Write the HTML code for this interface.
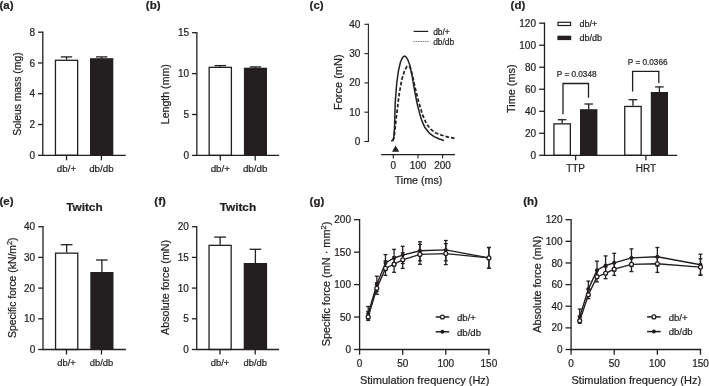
<!DOCTYPE html>
<html><head><meta charset="utf-8"><title>Figure</title>
<style>
html,body{margin:0;padding:0;background:#fff;}
svg{display:block;filter:blur(0.35px);}
text{font-family:'Liberation Sans', Arial, Helvetica, sans-serif;fill:#231f20;stroke:#231f20;stroke-width:0.22px;}
</style></head><body>
<svg width="709" height="386" viewBox="0 0 709 386">
<rect width="709" height="386" fill="#fff"/>
<text x="-0.60" y="9.30" font-size="11.5" text-anchor="start" font-weight="bold" >(a)</text>
<text x="145.80" y="9.30" font-size="11.5" text-anchor="start" font-weight="bold" >(b)</text>
<text x="309.60" y="9.30" font-size="11.5" text-anchor="start" font-weight="bold" >(c)</text>
<text x="510.60" y="9.30" font-size="11.5" text-anchor="start" font-weight="bold" >(d)</text>
<text x="-0.60" y="204.60" font-size="11.5" text-anchor="start" font-weight="bold" >(e)</text>
<text x="154.30" y="204.60" font-size="11.5" text-anchor="start" font-weight="bold" >(f)</text>
<text x="309.60" y="204.60" font-size="11.5" text-anchor="start" font-weight="bold" >(g)</text>
<text x="523.20" y="204.60" font-size="11.5" text-anchor="start" font-weight="bold" >(h)</text>
<line x1="66.55" y1="59.65" x2="66.55" y2="56.90" stroke="#231f20" stroke-width="1.3" />
<line x1="60.90" y1="56.90" x2="72.20" y2="56.90" stroke="#231f20" stroke-width="1.3" />
<rect x="55.45" y="60.30" width="22.20" height="95.00" fill="#fff" stroke="#231f20" stroke-width="1.3"/>
<line x1="101.65" y1="58.20" x2="101.65" y2="56.90" stroke="#231f20" stroke-width="1.3" />
<line x1="95.95" y1="56.90" x2="107.35" y2="56.90" stroke="#231f20" stroke-width="1.3" />
<rect x="90.00" y="58.20" width="23.30" height="97.10" fill="#231f20"/>
<line x1="42.80" y1="31.55" x2="42.80" y2="155.95" stroke="#231f20" stroke-width="1.3" />
<line x1="38.00" y1="155.30" x2="42.80" y2="155.30" stroke="#231f20" stroke-width="1.3" />
<text x="35.00" y="158.88" font-size="10" text-anchor="end" font-weight="normal" >0</text>
<line x1="38.00" y1="124.53" x2="42.80" y2="124.53" stroke="#231f20" stroke-width="1.3" />
<text x="35.00" y="128.11" font-size="10" text-anchor="end" font-weight="normal" >2</text>
<line x1="38.00" y1="93.75" x2="42.80" y2="93.75" stroke="#231f20" stroke-width="1.3" />
<text x="35.00" y="97.33" font-size="10" text-anchor="end" font-weight="normal" >4</text>
<line x1="38.00" y1="62.98" x2="42.80" y2="62.98" stroke="#231f20" stroke-width="1.3" />
<text x="35.00" y="66.56" font-size="10" text-anchor="end" font-weight="normal" >6</text>
<line x1="38.00" y1="32.20" x2="42.80" y2="32.20" stroke="#231f20" stroke-width="1.3" />
<text x="35.00" y="35.78" font-size="10" text-anchor="end" font-weight="normal" >8</text>
<line x1="42.80" y1="155.30" x2="125.70" y2="155.30" stroke="#231f20" stroke-width="1.3" />
<line x1="66.50" y1="155.30" x2="66.50" y2="160.30" stroke="#231f20" stroke-width="1.3" />
<text x="66.50" y="172.00" font-size="9.8" text-anchor="middle" font-weight="normal" >db/+</text>
<line x1="101.40" y1="155.30" x2="101.40" y2="160.30" stroke="#231f20" stroke-width="1.3" />
<text x="101.40" y="172.00" font-size="9.8" text-anchor="middle" font-weight="normal" >db/db</text>
<text x="21.50" y="94.10" font-size="10.35" text-anchor="middle" font-weight="normal" transform="rotate(-90 21.50 94.10)" >Soleus mass (mg)</text>
<line x1="220.28" y1="66.70" x2="220.28" y2="65.60" stroke="#231f20" stroke-width="1.3" />
<line x1="214.47" y1="65.60" x2="226.08" y2="65.60" stroke="#231f20" stroke-width="1.3" />
<rect x="209.15" y="67.35" width="22.25" height="88.05" fill="#fff" stroke="#231f20" stroke-width="1.3"/>
<line x1="255.45" y1="67.70" x2="255.45" y2="66.90" stroke="#231f20" stroke-width="1.3" />
<line x1="249.75" y1="66.90" x2="261.15" y2="66.90" stroke="#231f20" stroke-width="1.3" />
<rect x="243.90" y="67.70" width="23.10" height="87.70" fill="#231f20"/>
<line x1="196.85" y1="32.05" x2="196.85" y2="156.05" stroke="#231f20" stroke-width="1.3" />
<line x1="192.05" y1="155.40" x2="196.85" y2="155.40" stroke="#231f20" stroke-width="1.3" />
<text x="189.05" y="158.98" font-size="10" text-anchor="end" font-weight="normal" >0</text>
<line x1="192.05" y1="114.50" x2="196.85" y2="114.50" stroke="#231f20" stroke-width="1.3" />
<text x="189.05" y="118.08" font-size="10" text-anchor="end" font-weight="normal" >5</text>
<line x1="192.05" y1="73.60" x2="196.85" y2="73.60" stroke="#231f20" stroke-width="1.3" />
<text x="189.05" y="77.18" font-size="10" text-anchor="end" font-weight="normal" >10</text>
<line x1="192.05" y1="32.70" x2="196.85" y2="32.70" stroke="#231f20" stroke-width="1.3" />
<text x="189.05" y="36.28" font-size="10" text-anchor="end" font-weight="normal" >15</text>
<line x1="196.85" y1="155.40" x2="279.20" y2="155.40" stroke="#231f20" stroke-width="1.3" />
<line x1="220.30" y1="155.40" x2="220.30" y2="160.40" stroke="#231f20" stroke-width="1.3" />
<text x="220.30" y="172.20" font-size="9.8" text-anchor="middle" font-weight="normal" >db/+</text>
<line x1="255.20" y1="155.40" x2="255.20" y2="160.40" stroke="#231f20" stroke-width="1.3" />
<text x="255.20" y="172.20" font-size="9.8" text-anchor="middle" font-weight="normal" >db/db</text>
<text x="169.50" y="94.20" font-size="10.6" text-anchor="middle" font-weight="normal" transform="rotate(-90 169.50 94.20)" >Length (mm)</text>
<line x1="66.65" y1="252.50" x2="66.65" y2="244.70" stroke="#231f20" stroke-width="1.3" />
<line x1="60.80" y1="244.70" x2="72.50" y2="244.70" stroke="#231f20" stroke-width="1.3" />
<rect x="55.55" y="253.15" width="22.20" height="96.35" fill="#fff" stroke="#231f20" stroke-width="1.3"/>
<line x1="101.90" y1="272.00" x2="101.90" y2="260.00" stroke="#231f20" stroke-width="1.3" />
<line x1="96.10" y1="260.00" x2="107.70" y2="260.00" stroke="#231f20" stroke-width="1.3" />
<rect x="90.30" y="272.00" width="23.20" height="77.50" fill="#231f20"/>
<line x1="43.00" y1="226.05" x2="43.00" y2="350.15" stroke="#231f20" stroke-width="1.3" />
<line x1="38.20" y1="349.50" x2="43.00" y2="349.50" stroke="#231f20" stroke-width="1.3" />
<text x="35.20" y="353.08" font-size="10" text-anchor="end" font-weight="normal" >0</text>
<line x1="38.20" y1="318.80" x2="43.00" y2="318.80" stroke="#231f20" stroke-width="1.3" />
<text x="35.20" y="322.38" font-size="10" text-anchor="end" font-weight="normal" >10</text>
<line x1="38.20" y1="288.10" x2="43.00" y2="288.10" stroke="#231f20" stroke-width="1.3" />
<text x="35.20" y="291.68" font-size="10" text-anchor="end" font-weight="normal" >20</text>
<line x1="38.20" y1="257.40" x2="43.00" y2="257.40" stroke="#231f20" stroke-width="1.3" />
<text x="35.20" y="260.98" font-size="10" text-anchor="end" font-weight="normal" >30</text>
<line x1="38.20" y1="226.70" x2="43.00" y2="226.70" stroke="#231f20" stroke-width="1.3" />
<text x="35.20" y="230.28" font-size="10" text-anchor="end" font-weight="normal" >40</text>
<line x1="43.00" y1="349.50" x2="125.90" y2="349.50" stroke="#231f20" stroke-width="1.3" />
<line x1="66.50" y1="349.50" x2="66.50" y2="354.50" stroke="#231f20" stroke-width="1.3" />
<text x="66.50" y="365.80" font-size="9.4" text-anchor="middle" font-weight="normal" >db/+</text>
<line x1="101.50" y1="349.50" x2="101.50" y2="354.50" stroke="#231f20" stroke-width="1.3" />
<text x="101.50" y="365.80" font-size="9.4" text-anchor="middle" font-weight="normal" >db/db</text>
<text x="15.90" y="287.80" font-size="10.4" text-anchor="middle" font-weight="normal" transform="rotate(-90 15.90 287.80)" >Specific force (kN/m<tspan font-size="7.2" dy="-4.1">2</tspan><tspan dy="4.1">)</tspan></text>
<text x="84.40" y="210.60" font-size="11.8" text-anchor="middle" font-weight="bold" >Twitch</text>
<line x1="220.10" y1="244.70" x2="220.10" y2="237.10" stroke="#231f20" stroke-width="1.3" />
<line x1="214.25" y1="237.10" x2="225.95" y2="237.10" stroke="#231f20" stroke-width="1.3" />
<rect x="209.05" y="245.35" width="22.10" height="104.15" fill="#fff" stroke="#231f20" stroke-width="1.3"/>
<line x1="255.40" y1="263.00" x2="255.40" y2="249.30" stroke="#231f20" stroke-width="1.3" />
<line x1="249.55" y1="249.30" x2="261.25" y2="249.30" stroke="#231f20" stroke-width="1.3" />
<rect x="243.70" y="263.00" width="23.40" height="86.50" fill="#231f20"/>
<line x1="196.70" y1="226.05" x2="196.70" y2="350.15" stroke="#231f20" stroke-width="1.3" />
<line x1="191.90" y1="349.50" x2="196.70" y2="349.50" stroke="#231f20" stroke-width="1.3" />
<text x="188.90" y="353.08" font-size="10" text-anchor="end" font-weight="normal" >0</text>
<line x1="191.90" y1="318.80" x2="196.70" y2="318.80" stroke="#231f20" stroke-width="1.3" />
<text x="188.90" y="322.38" font-size="10" text-anchor="end" font-weight="normal" >5</text>
<line x1="191.90" y1="288.10" x2="196.70" y2="288.10" stroke="#231f20" stroke-width="1.3" />
<text x="188.90" y="291.68" font-size="10" text-anchor="end" font-weight="normal" >10</text>
<line x1="191.90" y1="257.40" x2="196.70" y2="257.40" stroke="#231f20" stroke-width="1.3" />
<text x="188.90" y="260.98" font-size="10" text-anchor="end" font-weight="normal" >15</text>
<line x1="191.90" y1="226.70" x2="196.70" y2="226.70" stroke="#231f20" stroke-width="1.3" />
<text x="188.90" y="230.28" font-size="10" text-anchor="end" font-weight="normal" >20</text>
<line x1="196.70" y1="349.50" x2="279.00" y2="349.50" stroke="#231f20" stroke-width="1.3" />
<line x1="220.00" y1="349.50" x2="220.00" y2="354.50" stroke="#231f20" stroke-width="1.3" />
<text x="220.00" y="365.80" font-size="9.4" text-anchor="middle" font-weight="normal" >db/+</text>
<line x1="255.20" y1="349.50" x2="255.20" y2="354.50" stroke="#231f20" stroke-width="1.3" />
<text x="255.20" y="365.80" font-size="9.4" text-anchor="middle" font-weight="normal" >db/db</text>
<text x="169.10" y="287.40" font-size="10.7" text-anchor="middle" font-weight="normal" transform="rotate(-90 169.10 287.40)" >Absolute force (mN)</text>
<text x="237.90" y="210.60" font-size="11.8" text-anchor="middle" font-weight="bold" >Twitch</text>
<line x1="368.40" y1="23.75" x2="368.40" y2="142.05" stroke="#231f20" stroke-width="1.1" />
<line x1="364.40" y1="141.50" x2="368.40" y2="141.50" stroke="#231f20" stroke-width="1.1" />
<text x="360.30" y="145.08" font-size="10" text-anchor="end" font-weight="normal" >0</text>
<line x1="364.40" y1="112.20" x2="368.40" y2="112.20" stroke="#231f20" stroke-width="1.1" />
<text x="360.30" y="115.78" font-size="10" text-anchor="end" font-weight="normal" >10</text>
<line x1="364.40" y1="82.90" x2="368.40" y2="82.90" stroke="#231f20" stroke-width="1.1" />
<text x="360.30" y="86.48" font-size="10" text-anchor="end" font-weight="normal" >20</text>
<line x1="364.40" y1="53.60" x2="368.40" y2="53.60" stroke="#231f20" stroke-width="1.1" />
<text x="360.30" y="57.18" font-size="10" text-anchor="end" font-weight="normal" >30</text>
<line x1="364.40" y1="24.30" x2="368.40" y2="24.30" stroke="#231f20" stroke-width="1.1" />
<text x="360.30" y="27.88" font-size="10" text-anchor="end" font-weight="normal" >40</text>
<line x1="381.10" y1="154.60" x2="455.00" y2="154.60" stroke="#231f20" stroke-width="1.15" />
<line x1="393.30" y1="154.60" x2="393.30" y2="158.20" stroke="#231f20" stroke-width="1.15" />
<text x="393.30" y="168.80" font-size="10" text-anchor="middle" font-weight="normal" >0</text>
<line x1="418.00" y1="154.60" x2="418.00" y2="158.20" stroke="#231f20" stroke-width="1.15" />
<text x="418.00" y="168.80" font-size="10" text-anchor="middle" font-weight="normal" >100</text>
<line x1="442.60" y1="154.60" x2="442.60" y2="158.20" stroke="#231f20" stroke-width="1.15" />
<text x="442.60" y="168.80" font-size="10" text-anchor="middle" font-weight="normal" >200</text>
<text x="418.50" y="184.10" font-size="10.7" text-anchor="middle" font-weight="normal" >Time (ms)</text>
<text x="341.60" y="82.20" font-size="11.0" text-anchor="middle" font-weight="normal" transform="rotate(-90 341.60 82.20)" >Force (mN)</text>
<path d="M391.1,141.0 L392.9,140.6 L393.8,137.0 L394.5,127.6 L395.2,103.0 L396.6,84.5 L398.4,71.2 L400.5,62.0 L402.6,57.4 L404.4,56.0 L406.0,56.8 L407.6,59.3 L409.6,64.5 L412.2,76.5 L414.7,91.4 L417.3,104.3 L419.9,114.6 L422.5,122.4 L425.1,127.8 L429.0,132.8 L434.1,136.6 L439.3,139.0 L444.0,140.5" fill="none" stroke="#231f20" stroke-width="1.5" stroke-linejoin="round" />
<path d="M392.8,140.6 L394.0,138.0 L395.2,128.0 L396.6,114.6 L399.2,94.0 L401.8,79.5 L404.6,70.5 L406.8,66.6 L408.3,65.8 L409.8,66.8 L411.2,70.2 L413.4,79.7 L416.0,91.4 L418.6,101.7 L422.5,114.6 L426.4,123.7 L430.3,128.9 L435.4,132.8 L441.9,135.3 L448.4,137.1 L454.8,138.4" fill="none" stroke="#231f20" stroke-width="1.7" stroke-linejoin="round" stroke-dasharray="3.6 2.0"/>
<polygon points="392.0,151.8 399.2,151.8 395.6,145.6" fill="#231f20"/>
<line x1="413.60" y1="31.40" x2="428.20" y2="31.40" stroke="#231f20" stroke-width="1.2" />
<line x1="413.40" y1="41.60" x2="428.40" y2="41.60" stroke="#231f20" stroke-width="0.8" stroke-dasharray="1.5 0.8" opacity="0.8"/>
<text x="433.20" y="34.60" font-size="8.4" text-anchor="start" font-weight="normal" >db/+</text>
<text x="433.20" y="44.50" font-size="8.4" text-anchor="start" font-weight="normal" >db/db</text>
<line x1="562.15" y1="123.20" x2="562.15" y2="119.70" stroke="#231f20" stroke-width="1.3" />
<line x1="557.90" y1="119.70" x2="566.40" y2="119.70" stroke="#231f20" stroke-width="1.3" />
<rect x="553.95" y="123.85" width="16.40" height="31.45" fill="#fff" stroke="#231f20" stroke-width="1.3"/>
<line x1="588.70" y1="109.20" x2="588.70" y2="104.00" stroke="#231f20" stroke-width="1.3" />
<line x1="584.45" y1="104.00" x2="592.95" y2="104.00" stroke="#231f20" stroke-width="1.3" />
<rect x="580.00" y="109.20" width="17.40" height="46.10" fill="#231f20"/>
<line x1="632.95" y1="105.80" x2="632.95" y2="99.70" stroke="#231f20" stroke-width="1.3" />
<line x1="628.60" y1="99.70" x2="637.30" y2="99.70" stroke="#231f20" stroke-width="1.3" />
<rect x="624.75" y="106.45" width="16.40" height="48.85" fill="#fff" stroke="#231f20" stroke-width="1.3"/>
<line x1="659.40" y1="92.00" x2="659.40" y2="86.90" stroke="#231f20" stroke-width="1.3" />
<line x1="655.15" y1="86.90" x2="663.65" y2="86.90" stroke="#231f20" stroke-width="1.3" />
<rect x="650.80" y="92.00" width="17.20" height="63.30" fill="#231f20"/>
<line x1="544.50" y1="22.55" x2="544.50" y2="155.95" stroke="#231f20" stroke-width="1.3" />
<line x1="539.20" y1="155.30" x2="544.50" y2="155.30" stroke="#231f20" stroke-width="1.3" />
<text x="536.00" y="158.88" font-size="10" text-anchor="end" font-weight="normal" >0</text>
<line x1="539.20" y1="133.28" x2="544.50" y2="133.28" stroke="#231f20" stroke-width="1.3" />
<text x="536.00" y="136.86" font-size="10" text-anchor="end" font-weight="normal" >20</text>
<line x1="539.20" y1="111.27" x2="544.50" y2="111.27" stroke="#231f20" stroke-width="1.3" />
<text x="536.00" y="114.85" font-size="10" text-anchor="end" font-weight="normal" >40</text>
<line x1="539.20" y1="89.25" x2="544.50" y2="89.25" stroke="#231f20" stroke-width="1.3" />
<text x="536.00" y="92.83" font-size="10" text-anchor="end" font-weight="normal" >60</text>
<line x1="539.20" y1="67.23" x2="544.50" y2="67.23" stroke="#231f20" stroke-width="1.3" />
<text x="536.00" y="70.81" font-size="10" text-anchor="end" font-weight="normal" >80</text>
<line x1="539.20" y1="45.22" x2="544.50" y2="45.22" stroke="#231f20" stroke-width="1.3" />
<text x="536.00" y="48.80" font-size="10" text-anchor="end" font-weight="normal" >100</text>
<line x1="539.20" y1="23.20" x2="544.50" y2="23.20" stroke="#231f20" stroke-width="1.3" />
<text x="536.00" y="26.78" font-size="10" text-anchor="end" font-weight="normal" >120</text>
<line x1="544.50" y1="155.30" x2="677.20" y2="155.30" stroke="#231f20" stroke-width="1.3" />
<line x1="575.60" y1="155.30" x2="575.60" y2="160.30" stroke="#231f20" stroke-width="1.3" />
<text x="575.60" y="171.60" font-size="10" text-anchor="middle" font-weight="normal" >TTP</text>
<line x1="645.90" y1="155.30" x2="645.90" y2="160.30" stroke="#231f20" stroke-width="1.3" />
<text x="645.90" y="171.60" font-size="10" text-anchor="middle" font-weight="normal" >HRT</text>
<text x="514.70" y="88.70" font-size="10.9" text-anchor="middle" font-weight="normal" transform="rotate(-90 514.70 88.70)" >Time (ms)</text>
<rect x="558.0" y="22.3" width="12.6" height="3.2" fill="#fff" stroke="#231f20" stroke-width="1.2"/>
<rect x="557.4" y="35.7" width="13.8" height="4.4" fill="#231f20"/>
<text x="579.50" y="27.00" font-size="9.0" text-anchor="start" font-weight="normal" >db/+</text>
<text x="579.50" y="41.20" font-size="9.0" text-anchor="start" font-weight="normal" >db/db</text>
<path d="M563.0,114.2 V83.5 H588.5 V97.8" fill="none" stroke="#231f20" stroke-width="1.3"/>
<path d="M632.6,91.6 V71.3 H658.8 V83.0" fill="none" stroke="#231f20" stroke-width="1.3"/>
<text x="576.70" y="77.00" font-size="8.2" text-anchor="middle" font-weight="normal" >P = 0.0348</text>
<text x="647.70" y="65.30" font-size="8.2" text-anchor="middle" font-weight="normal" >P = 0.0366</text>
<line x1="368.22" y1="311.50" x2="368.22" y2="320.40" stroke="#231f20" stroke-width="1.3" />
<line x1="366.27" y1="311.50" x2="370.17" y2="311.50" stroke="#231f20" stroke-width="1.3" />
<line x1="366.27" y1="320.40" x2="370.17" y2="320.40" stroke="#231f20" stroke-width="1.3" />
<line x1="376.84" y1="282.70" x2="376.84" y2="294.30" stroke="#231f20" stroke-width="1.3" />
<line x1="374.89" y1="282.70" x2="378.79" y2="282.70" stroke="#231f20" stroke-width="1.3" />
<line x1="374.89" y1="294.30" x2="378.79" y2="294.30" stroke="#231f20" stroke-width="1.3" />
<line x1="385.46" y1="260.80" x2="385.46" y2="275.40" stroke="#231f20" stroke-width="1.3" />
<line x1="383.51" y1="260.80" x2="387.41" y2="260.80" stroke="#231f20" stroke-width="1.3" />
<line x1="383.51" y1="275.40" x2="387.41" y2="275.40" stroke="#231f20" stroke-width="1.3" />
<line x1="394.08" y1="257.00" x2="394.08" y2="272.30" stroke="#231f20" stroke-width="1.3" />
<line x1="392.13" y1="257.00" x2="396.03" y2="257.00" stroke="#231f20" stroke-width="1.3" />
<line x1="392.13" y1="272.30" x2="396.03" y2="272.30" stroke="#231f20" stroke-width="1.3" />
<line x1="402.70" y1="252.80" x2="402.70" y2="268.40" stroke="#231f20" stroke-width="1.3" />
<line x1="400.75" y1="252.80" x2="404.65" y2="252.80" stroke="#231f20" stroke-width="1.3" />
<line x1="400.75" y1="268.40" x2="404.65" y2="268.40" stroke="#231f20" stroke-width="1.3" />
<line x1="419.94" y1="244.40" x2="419.94" y2="264.30" stroke="#231f20" stroke-width="1.3" />
<line x1="417.99" y1="244.40" x2="421.89" y2="244.40" stroke="#231f20" stroke-width="1.3" />
<line x1="417.99" y1="264.30" x2="421.89" y2="264.30" stroke="#231f20" stroke-width="1.3" />
<line x1="445.80" y1="243.70" x2="445.80" y2="264.60" stroke="#231f20" stroke-width="1.3" />
<line x1="443.85" y1="243.70" x2="447.75" y2="243.70" stroke="#231f20" stroke-width="1.3" />
<line x1="443.85" y1="264.60" x2="447.75" y2="264.60" stroke="#231f20" stroke-width="1.3" />
<line x1="488.90" y1="247.50" x2="488.90" y2="268.30" stroke="#231f20" stroke-width="1.3" />
<line x1="486.95" y1="247.50" x2="490.85" y2="247.50" stroke="#231f20" stroke-width="1.3" />
<line x1="486.95" y1="268.30" x2="490.85" y2="268.30" stroke="#231f20" stroke-width="1.3" />
<line x1="368.22" y1="306.50" x2="368.22" y2="319.00" stroke="#231f20" stroke-width="1.3" />
<line x1="366.27" y1="306.50" x2="370.17" y2="306.50" stroke="#231f20" stroke-width="1.3" />
<line x1="366.27" y1="319.00" x2="370.17" y2="319.00" stroke="#231f20" stroke-width="1.3" />
<line x1="376.84" y1="276.20" x2="376.84" y2="291.50" stroke="#231f20" stroke-width="1.3" />
<line x1="374.89" y1="276.20" x2="378.79" y2="276.20" stroke="#231f20" stroke-width="1.3" />
<line x1="374.89" y1="291.50" x2="378.79" y2="291.50" stroke="#231f20" stroke-width="1.3" />
<line x1="385.46" y1="254.60" x2="385.46" y2="270.50" stroke="#231f20" stroke-width="1.3" />
<line x1="383.51" y1="254.60" x2="387.41" y2="254.60" stroke="#231f20" stroke-width="1.3" />
<line x1="383.51" y1="270.50" x2="387.41" y2="270.50" stroke="#231f20" stroke-width="1.3" />
<line x1="394.08" y1="249.40" x2="394.08" y2="266.00" stroke="#231f20" stroke-width="1.3" />
<line x1="392.13" y1="249.40" x2="396.03" y2="249.40" stroke="#231f20" stroke-width="1.3" />
<line x1="392.13" y1="266.00" x2="396.03" y2="266.00" stroke="#231f20" stroke-width="1.3" />
<line x1="402.70" y1="246.30" x2="402.70" y2="263.50" stroke="#231f20" stroke-width="1.3" />
<line x1="400.75" y1="246.30" x2="404.65" y2="246.30" stroke="#231f20" stroke-width="1.3" />
<line x1="400.75" y1="263.50" x2="404.65" y2="263.50" stroke="#231f20" stroke-width="1.3" />
<line x1="419.94" y1="241.80" x2="419.94" y2="260.80" stroke="#231f20" stroke-width="1.3" />
<line x1="417.99" y1="241.80" x2="421.89" y2="241.80" stroke="#231f20" stroke-width="1.3" />
<line x1="417.99" y1="260.80" x2="421.89" y2="260.80" stroke="#231f20" stroke-width="1.3" />
<line x1="445.80" y1="240.50" x2="445.80" y2="260.80" stroke="#231f20" stroke-width="1.3" />
<line x1="443.85" y1="240.50" x2="447.75" y2="240.50" stroke="#231f20" stroke-width="1.3" />
<line x1="443.85" y1="260.80" x2="447.75" y2="260.80" stroke="#231f20" stroke-width="1.3" />
<line x1="488.90" y1="247.50" x2="488.90" y2="268.30" stroke="#231f20" stroke-width="1.3" />
<line x1="486.95" y1="247.50" x2="490.85" y2="247.50" stroke="#231f20" stroke-width="1.3" />
<line x1="486.95" y1="268.30" x2="490.85" y2="268.30" stroke="#231f20" stroke-width="1.3" />
<path d="M368.2,313.7 L376.8,284.4 L385.5,262.9 L394.1,258.0 L402.7,255.1 L419.9,250.8 L445.8,249.9 L488.9,257.9" fill="none" stroke="#231f20" stroke-width="1.4"/>
<path d="M368.2,316.9 L376.8,288.3 L385.5,268.4 L394.1,264.2 L402.7,259.8 L419.9,254.4 L445.8,253.6 L488.9,257.9" fill="none" stroke="#231f20" stroke-width="1.4"/>
<circle cx="368.2" cy="313.7" r="2.0" fill="#231f20"/>
<circle cx="376.8" cy="284.4" r="2.0" fill="#231f20"/>
<circle cx="385.5" cy="262.9" r="2.0" fill="#231f20"/>
<circle cx="394.1" cy="258.0" r="2.0" fill="#231f20"/>
<circle cx="402.7" cy="255.1" r="2.0" fill="#231f20"/>
<circle cx="419.9" cy="250.8" r="2.0" fill="#231f20"/>
<circle cx="445.8" cy="249.9" r="2.0" fill="#231f20"/>
<circle cx="488.9" cy="257.9" r="2.0" fill="#231f20"/>
<circle cx="368.2" cy="316.9" r="1.95" fill="#fff" stroke="#231f20" stroke-width="1.3"/>
<circle cx="376.8" cy="288.3" r="1.95" fill="#fff" stroke="#231f20" stroke-width="1.3"/>
<circle cx="385.5" cy="268.4" r="1.95" fill="#fff" stroke="#231f20" stroke-width="1.3"/>
<circle cx="394.1" cy="264.2" r="1.95" fill="#fff" stroke="#231f20" stroke-width="1.3"/>
<circle cx="402.7" cy="259.8" r="1.95" fill="#fff" stroke="#231f20" stroke-width="1.3"/>
<circle cx="419.9" cy="254.4" r="1.95" fill="#fff" stroke="#231f20" stroke-width="1.3"/>
<circle cx="445.8" cy="253.6" r="1.95" fill="#fff" stroke="#231f20" stroke-width="1.3"/>
<circle cx="488.9" cy="257.9" r="1.95" fill="#fff" stroke="#231f20" stroke-width="1.3"/>
<line x1="359.60" y1="219.05" x2="359.60" y2="350.15" stroke="#231f20" stroke-width="1.3" />
<line x1="354.00" y1="349.50" x2="359.60" y2="349.50" stroke="#231f20" stroke-width="1.3" />
<text x="351.00" y="353.08" font-size="10" text-anchor="end" font-weight="normal" >0</text>
<line x1="354.00" y1="317.05" x2="359.60" y2="317.05" stroke="#231f20" stroke-width="1.3" />
<text x="351.00" y="320.63" font-size="10" text-anchor="end" font-weight="normal" >50</text>
<line x1="354.00" y1="284.60" x2="359.60" y2="284.60" stroke="#231f20" stroke-width="1.3" />
<text x="351.00" y="288.18" font-size="10" text-anchor="end" font-weight="normal" >100</text>
<line x1="354.00" y1="252.15" x2="359.60" y2="252.15" stroke="#231f20" stroke-width="1.3" />
<text x="351.00" y="255.73" font-size="10" text-anchor="end" font-weight="normal" >150</text>
<line x1="354.00" y1="219.70" x2="359.60" y2="219.70" stroke="#231f20" stroke-width="1.3" />
<text x="351.00" y="223.28" font-size="10" text-anchor="end" font-weight="normal" >200</text>
<line x1="359.60" y1="349.50" x2="489.60" y2="349.50" stroke="#231f20" stroke-width="1.3" />
<line x1="359.60" y1="349.50" x2="359.60" y2="354.70" stroke="#231f20" stroke-width="1.3" />
<text x="359.60" y="367.40" font-size="10" text-anchor="middle" font-weight="normal" >0</text>
<line x1="402.70" y1="349.50" x2="402.70" y2="354.70" stroke="#231f20" stroke-width="1.3" />
<text x="402.70" y="367.40" font-size="10" text-anchor="middle" font-weight="normal" >50</text>
<line x1="445.80" y1="349.50" x2="445.80" y2="354.70" stroke="#231f20" stroke-width="1.3" />
<text x="445.80" y="367.40" font-size="10" text-anchor="middle" font-weight="normal" >100</text>
<line x1="488.90" y1="349.50" x2="488.90" y2="354.70" stroke="#231f20" stroke-width="1.3" />
<text x="488.90" y="367.40" font-size="10" text-anchor="middle" font-weight="normal" >150</text>
<text x="330.20" y="284.00" font-size="10.9" text-anchor="middle" font-weight="normal" transform="rotate(-90 330.20 284.00)" >Specific force (mN · mm<tspan font-size="7.5" dy="-4.3">2</tspan><tspan dy="4.3">)</tspan></text>
<text x="424.70" y="383.70" font-size="11.0" text-anchor="middle" font-weight="normal" >Stimulation frequency (Hz)</text>
<line x1="435.70" y1="317.00" x2="449.20" y2="317.00" stroke="#231f20" stroke-width="1.5" />
<line x1="435.70" y1="331.80" x2="449.20" y2="331.80" stroke="#231f20" stroke-width="1.5" />
<circle cx="442.4" cy="317.0" r="1.95" fill="#fff" stroke="#231f20" stroke-width="1.3"/>
<circle cx="442.4" cy="331.8" r="2.0" fill="#231f20"/>
<text x="457.00" y="320.70" font-size="9.6" text-anchor="start" font-weight="normal" >db/+</text>
<text x="457.00" y="335.50" font-size="9.6" text-anchor="start" font-weight="normal" >db/db</text>
<line x1="579.73" y1="316.00" x2="579.73" y2="323.30" stroke="#231f20" stroke-width="1.3" />
<line x1="577.77" y1="316.00" x2="581.68" y2="316.00" stroke="#231f20" stroke-width="1.3" />
<line x1="577.77" y1="323.30" x2="581.68" y2="323.30" stroke="#231f20" stroke-width="1.3" />
<line x1="588.35" y1="289.00" x2="588.35" y2="298.70" stroke="#231f20" stroke-width="1.3" />
<line x1="586.40" y1="289.00" x2="590.30" y2="289.00" stroke="#231f20" stroke-width="1.3" />
<line x1="586.40" y1="298.70" x2="590.30" y2="298.70" stroke="#231f20" stroke-width="1.3" />
<line x1="596.98" y1="270.50" x2="596.98" y2="281.90" stroke="#231f20" stroke-width="1.3" />
<line x1="595.02" y1="270.50" x2="598.93" y2="270.50" stroke="#231f20" stroke-width="1.3" />
<line x1="595.02" y1="281.90" x2="598.93" y2="281.90" stroke="#231f20" stroke-width="1.3" />
<line x1="605.60" y1="267.00" x2="605.60" y2="278.70" stroke="#231f20" stroke-width="1.3" />
<line x1="603.65" y1="267.00" x2="607.55" y2="267.00" stroke="#231f20" stroke-width="1.3" />
<line x1="603.65" y1="278.70" x2="607.55" y2="278.70" stroke="#231f20" stroke-width="1.3" />
<line x1="614.23" y1="263.00" x2="614.23" y2="275.40" stroke="#231f20" stroke-width="1.3" />
<line x1="612.27" y1="263.00" x2="616.18" y2="263.00" stroke="#231f20" stroke-width="1.3" />
<line x1="612.27" y1="275.40" x2="616.18" y2="275.40" stroke="#231f20" stroke-width="1.3" />
<line x1="631.48" y1="257.50" x2="631.48" y2="271.60" stroke="#231f20" stroke-width="1.3" />
<line x1="629.52" y1="257.50" x2="633.43" y2="257.50" stroke="#231f20" stroke-width="1.3" />
<line x1="629.52" y1="271.60" x2="633.43" y2="271.60" stroke="#231f20" stroke-width="1.3" />
<line x1="657.35" y1="256.70" x2="657.35" y2="272.40" stroke="#231f20" stroke-width="1.3" />
<line x1="655.40" y1="256.70" x2="659.30" y2="256.70" stroke="#231f20" stroke-width="1.3" />
<line x1="655.40" y1="272.40" x2="659.30" y2="272.40" stroke="#231f20" stroke-width="1.3" />
<line x1="700.48" y1="258.80" x2="700.48" y2="275.20" stroke="#231f20" stroke-width="1.3" />
<line x1="698.52" y1="258.80" x2="702.43" y2="258.80" stroke="#231f20" stroke-width="1.3" />
<line x1="698.52" y1="275.20" x2="702.43" y2="275.20" stroke="#231f20" stroke-width="1.3" />
<line x1="579.73" y1="309.10" x2="579.73" y2="321.50" stroke="#231f20" stroke-width="1.3" />
<line x1="577.77" y1="309.10" x2="581.68" y2="309.10" stroke="#231f20" stroke-width="1.3" />
<line x1="577.77" y1="321.50" x2="581.68" y2="321.50" stroke="#231f20" stroke-width="1.3" />
<line x1="588.35" y1="281.10" x2="588.35" y2="295.50" stroke="#231f20" stroke-width="1.3" />
<line x1="586.40" y1="281.10" x2="590.30" y2="281.10" stroke="#231f20" stroke-width="1.3" />
<line x1="586.40" y1="295.50" x2="590.30" y2="295.50" stroke="#231f20" stroke-width="1.3" />
<line x1="596.98" y1="261.10" x2="596.98" y2="277.50" stroke="#231f20" stroke-width="1.3" />
<line x1="595.02" y1="261.10" x2="598.93" y2="261.10" stroke="#231f20" stroke-width="1.3" />
<line x1="595.02" y1="277.50" x2="598.93" y2="277.50" stroke="#231f20" stroke-width="1.3" />
<line x1="605.60" y1="255.90" x2="605.60" y2="273.00" stroke="#231f20" stroke-width="1.3" />
<line x1="603.65" y1="255.90" x2="607.55" y2="255.90" stroke="#231f20" stroke-width="1.3" />
<line x1="603.65" y1="273.00" x2="607.55" y2="273.00" stroke="#231f20" stroke-width="1.3" />
<line x1="614.23" y1="253.30" x2="614.23" y2="271.00" stroke="#231f20" stroke-width="1.3" />
<line x1="612.27" y1="253.30" x2="616.18" y2="253.30" stroke="#231f20" stroke-width="1.3" />
<line x1="612.27" y1="271.00" x2="616.18" y2="271.00" stroke="#231f20" stroke-width="1.3" />
<line x1="631.48" y1="248.90" x2="631.48" y2="266.50" stroke="#231f20" stroke-width="1.3" />
<line x1="629.52" y1="248.90" x2="633.43" y2="248.90" stroke="#231f20" stroke-width="1.3" />
<line x1="629.52" y1="266.50" x2="633.43" y2="266.50" stroke="#231f20" stroke-width="1.3" />
<line x1="657.35" y1="247.50" x2="657.35" y2="266.00" stroke="#231f20" stroke-width="1.3" />
<line x1="655.40" y1="247.50" x2="659.30" y2="247.50" stroke="#231f20" stroke-width="1.3" />
<line x1="655.40" y1="266.00" x2="659.30" y2="266.00" stroke="#231f20" stroke-width="1.3" />
<line x1="700.48" y1="254.20" x2="700.48" y2="275.00" stroke="#231f20" stroke-width="1.3" />
<line x1="698.52" y1="254.20" x2="702.43" y2="254.20" stroke="#231f20" stroke-width="1.3" />
<line x1="698.52" y1="275.00" x2="702.43" y2="275.00" stroke="#231f20" stroke-width="1.3" />
<path d="M579.7,316.9 L588.4,289.1 L597.0,270.2 L605.6,265.5 L614.2,262.8 L631.5,257.9 L657.4,256.7 L700.5,264.8" fill="none" stroke="#231f20" stroke-width="1.4"/>
<path d="M579.7,320.7 L588.4,294.8 L597.0,276.7 L605.6,273.3 L614.2,269.2 L631.5,264.4 L657.4,263.8 L700.5,267.1" fill="none" stroke="#231f20" stroke-width="1.4"/>
<circle cx="579.7" cy="316.9" r="2.0" fill="#231f20"/>
<circle cx="588.4" cy="289.1" r="2.0" fill="#231f20"/>
<circle cx="597.0" cy="270.2" r="2.0" fill="#231f20"/>
<circle cx="605.6" cy="265.5" r="2.0" fill="#231f20"/>
<circle cx="614.2" cy="262.8" r="2.0" fill="#231f20"/>
<circle cx="631.5" cy="257.9" r="2.0" fill="#231f20"/>
<circle cx="657.4" cy="256.7" r="2.0" fill="#231f20"/>
<circle cx="700.5" cy="264.8" r="2.0" fill="#231f20"/>
<circle cx="579.7" cy="320.7" r="1.95" fill="#fff" stroke="#231f20" stroke-width="1.3"/>
<circle cx="588.4" cy="294.8" r="1.95" fill="#fff" stroke="#231f20" stroke-width="1.3"/>
<circle cx="597.0" cy="276.7" r="1.95" fill="#fff" stroke="#231f20" stroke-width="1.3"/>
<circle cx="605.6" cy="273.3" r="1.95" fill="#fff" stroke="#231f20" stroke-width="1.3"/>
<circle cx="614.2" cy="269.2" r="1.95" fill="#fff" stroke="#231f20" stroke-width="1.3"/>
<circle cx="631.5" cy="264.4" r="1.95" fill="#fff" stroke="#231f20" stroke-width="1.3"/>
<circle cx="657.4" cy="263.8" r="1.95" fill="#fff" stroke="#231f20" stroke-width="1.3"/>
<circle cx="700.5" cy="267.1" r="1.95" fill="#fff" stroke="#231f20" stroke-width="1.3"/>
<line x1="571.10" y1="219.05" x2="571.10" y2="350.15" stroke="#231f20" stroke-width="1.3" />
<line x1="565.50" y1="349.50" x2="571.10" y2="349.50" stroke="#231f20" stroke-width="1.3" />
<text x="562.50" y="353.08" font-size="10" text-anchor="end" font-weight="normal" >0</text>
<line x1="565.50" y1="327.87" x2="571.10" y2="327.87" stroke="#231f20" stroke-width="1.3" />
<text x="562.50" y="331.45" font-size="10" text-anchor="end" font-weight="normal" >20</text>
<line x1="565.50" y1="306.23" x2="571.10" y2="306.23" stroke="#231f20" stroke-width="1.3" />
<text x="562.50" y="309.81" font-size="10" text-anchor="end" font-weight="normal" >40</text>
<line x1="565.50" y1="284.60" x2="571.10" y2="284.60" stroke="#231f20" stroke-width="1.3" />
<text x="562.50" y="288.18" font-size="10" text-anchor="end" font-weight="normal" >60</text>
<line x1="565.50" y1="262.97" x2="571.10" y2="262.97" stroke="#231f20" stroke-width="1.3" />
<text x="562.50" y="266.55" font-size="10" text-anchor="end" font-weight="normal" >80</text>
<line x1="565.50" y1="241.33" x2="571.10" y2="241.33" stroke="#231f20" stroke-width="1.3" />
<text x="562.50" y="244.91" font-size="10" text-anchor="end" font-weight="normal" >100</text>
<line x1="565.50" y1="219.70" x2="571.10" y2="219.70" stroke="#231f20" stroke-width="1.3" />
<text x="562.50" y="223.28" font-size="10" text-anchor="end" font-weight="normal" >120</text>
<line x1="571.10" y1="349.50" x2="701.20" y2="349.50" stroke="#231f20" stroke-width="1.3" />
<line x1="571.10" y1="349.50" x2="571.10" y2="354.70" stroke="#231f20" stroke-width="1.3" />
<text x="571.10" y="367.40" font-size="10" text-anchor="middle" font-weight="normal" >0</text>
<line x1="614.23" y1="349.50" x2="614.23" y2="354.70" stroke="#231f20" stroke-width="1.3" />
<text x="614.23" y="367.40" font-size="10" text-anchor="middle" font-weight="normal" >50</text>
<line x1="657.35" y1="349.50" x2="657.35" y2="354.70" stroke="#231f20" stroke-width="1.3" />
<text x="657.35" y="367.40" font-size="10" text-anchor="middle" font-weight="normal" >100</text>
<line x1="700.48" y1="349.50" x2="700.48" y2="354.70" stroke="#231f20" stroke-width="1.3" />
<text x="700.48" y="367.40" font-size="10" text-anchor="middle" font-weight="normal" >150</text>
<text x="541.50" y="284.40" font-size="10.9" text-anchor="middle" font-weight="normal" transform="rotate(-90 541.50 284.40)" >Absolute force (mN)</text>
<text x="636.30" y="383.70" font-size="11.0" text-anchor="middle" font-weight="normal" >Stimulation frequency (Hz)</text>
<line x1="647.10" y1="316.90" x2="660.70" y2="316.90" stroke="#231f20" stroke-width="1.5" />
<line x1="647.10" y1="331.60" x2="660.70" y2="331.60" stroke="#231f20" stroke-width="1.5" />
<circle cx="653.9" cy="316.9" r="1.95" fill="#fff" stroke="#231f20" stroke-width="1.3"/>
<circle cx="653.9" cy="331.6" r="2.0" fill="#231f20"/>
<text x="668.70" y="320.60" font-size="9.6" text-anchor="start" font-weight="normal" >db/+</text>
<text x="668.70" y="335.30" font-size="9.6" text-anchor="start" font-weight="normal" >db/db</text>
</svg>
</body></html>
